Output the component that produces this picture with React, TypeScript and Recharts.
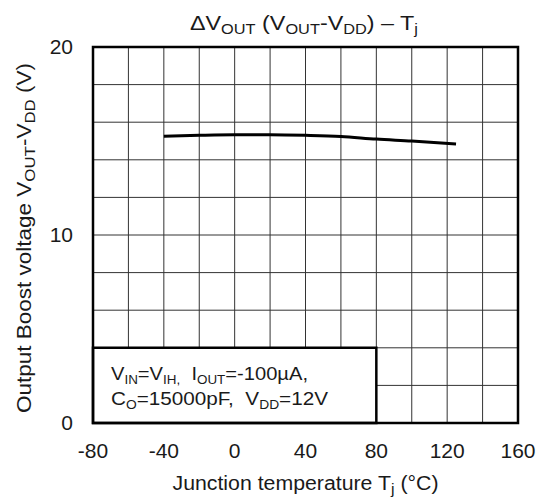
import { CartesianGrid, ComposedChart, Label, Line, ReferenceArea, XAxis, YAxis } from "recharts"

// junction temperature (°C) vs boost voltage VOUT-VDD (V)
const temps = [-40, -20, 0, 20, 40, 60, 80, 100, 125]
const boost = [15.25, 15.3, 15.33, 15.33, 15.3, 15.24, 15.1, 15.0, 14.84]

const xTicks = [-80, -60, -40, -20, 0, 20, 40, 60, 80, 100, 120, 140, 160]
const yTicks = [0, 2, 4, 6, 8, 10, 12, 14, 16, 18, 20]
const xLabeled = [-80, -40, 0, 40, 80, 120, 160]
const yLabeled = [0, 10, 20]

const data = temps.map((t, i) => ({ t, v: boost[i] }))

const FONT = "'Liberation Sans', Arial, sans-serif"
const INK = "#1a1a1a"

// segments: [text, isSubscript]
type Seg = [string, boolean]

function rich(segs: Seg[], fs: number, sub: number) {
  let prevSub = false
  return segs.map(([txt, s], i) => {
    const dy = s === prevSub ? 0 : s ? 4 : -4
    prevSub = s
    return (
      <tspan key={i} dy={dy} fontSize={s ? sub : fs} style={{ whiteSpace: "pre" }}>
        {txt}
      </tspan>
    )
  })
}

export default function App() {
  return (
    <div style={{ position: "absolute", left: 0, top: 0, width: 540, height: 502, background: "#fff", fontFamily: FONT }}>
      <ComposedChart width={540} height={502} data={data} margin={{ top: 47, right: 22, bottom: 0, left: 0 }}>
        <CartesianGrid stroke="#333" strokeWidth={1} />
        <XAxis
          type="number"
          dataKey="t"
          domain={[-80, 160]}
          ticks={xTicks}
          interval={0}
          tickFormatter={(v: number) => (xLabeled.includes(v) ? String(v) : "")}
          axisLine={false}
          tickLine={false}
          tickMargin={14}
          height={79}
          tick={{ fill: INK, fontSize: 21, fontFamily: FONT }}
        >
          <Label
            content={({ viewBox }: any) => (
              <text
                x={viewBox.x + viewBox.width / 2}
                y={490}
                textAnchor="middle"
                fill={INK}
                fontSize={20}
                fontFamily={FONT}
                textLength={266}
                lengthAdjust="spacingAndGlyphs"
              >
                {rich([["Junction temperature T", false], ["j", true], [" (°C)", false]], 20, 15)}
              </text>
            )}
          />
        </XAxis>
        <YAxis
          type="number"
          domain={[0, 20]}
          ticks={yTicks}
          interval={0}
          tickFormatter={(v: number) => (yLabeled.includes(v) ? String(v) : "")}
          axisLine={false}
          tickLine={false}
          tickMargin={14}
          width={93}
          tick={{ fill: INK, fontSize: 21, fontFamily: FONT }}
        >
          <Label
            content={() => (
              <text
                x={31}
                y={238}
                transform="rotate(-90 31 238)"
                textAnchor="middle"
                fill={INK}
                fontSize={20}
                fontFamily={FONT}
                textLength={350}
                lengthAdjust="spacingAndGlyphs"
              >
                {rich(
                  [
                    ["Output Boost voltage V", false],
                    ["OUT", true],
                    ["-V", false],
                    ["DD", true],
                    [" (V)", false],
                  ],
                  20,
                  15
                )}
              </text>
            )}
          />
        </YAxis>
        <ReferenceArea
          x1={-80}
          x2={80}
          y1={0}
          y2={4}
          fill="#fff"
          fillOpacity={1}
          stroke="#000"
          strokeWidth={2.5}
          ifOverflow="visible"
          label={({ viewBox }: any) => (
            <g>
              <text
                x={viewBox.x + 18}
                y={viewBox.y + 32}
                fill={INK}
                fontSize={18}
                fontFamily={FONT}
                textLength={197}
                lengthAdjust="spacingAndGlyphs"
              >
                {rich(
                  [
                    ["V", false],
                    ["IN", true],
                    ["=V", false],
                    ["IH,", true],
                    ["  I", false],
                    ["OUT", true],
                    ["=-100µA,", false],
                  ],
                  18,
                  12
                )}
              </text>
              <text
                x={viewBox.x + 18}
                y={viewBox.y + 57}
                fill={INK}
                fontSize={18}
                fontFamily={FONT}
                textLength={217}
                lengthAdjust="spacingAndGlyphs"
              >
                {rich(
                  [
                    ["C", false],
                    ["O", true],
                    ["=15000pF,  V", false],
                    ["DD", true],
                    ["=12V", false],
                  ],
                  18,
                  12
                )}
              </text>
            </g>
          )}
        />
        <Line type="monotone" dataKey="v" stroke="#000" strokeWidth={3} dot={false} isAnimationActive={false} />
        <ReferenceArea x1={-80} x2={160} y1={0} y2={20} fill="none" stroke="#000" strokeWidth={2.5} ifOverflow="visible" />
        <text
          x={304}
          y={30}
          textAnchor="middle"
          fill={INK}
          fontSize={20}
          fontFamily={FONT}
          textLength={228}
          lengthAdjust="spacingAndGlyphs"
        >
          {rich(
            [
              ["ΔV", false],
              ["OUT", true],
              [" (V", false],
              ["OUT", true],
              ["-V", false],
              ["DD", true],
              [") – T", false],
              ["j", true],
            ],
            20,
            14
          )}
        </text>
      </ComposedChart>
    </div>
  )
}
